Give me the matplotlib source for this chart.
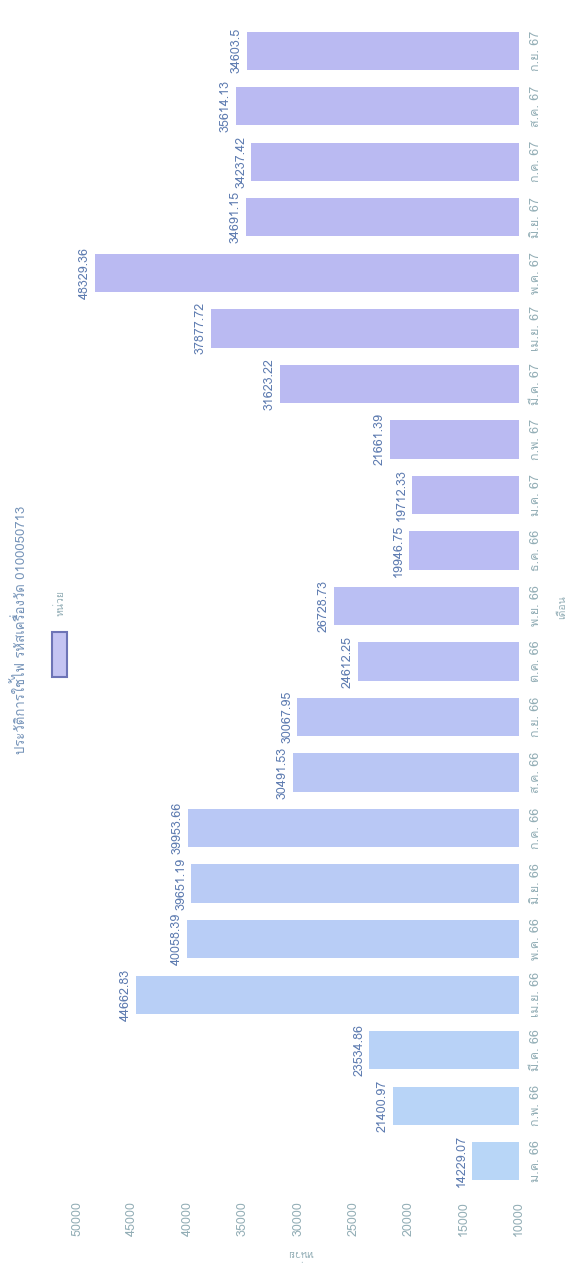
import matplotlib
matplotlib.use("Agg")
import matplotlib.pyplot as plt
from matplotlib import font_manager
from matplotlib.ft2font import FT2Font
from matplotlib.patches import Rectangle
import numpy as np

# data
months = ["ม.ค. 66", "ก.พ. 66", "มี.ค. 66", "เม.ย. 66", "พ.ค. 66", "มิ.ย. 66",
          "ก.ค. 66", "ส.ค. 66", "ก.ย. 66", "ต.ค. 66", "พ.ย. 66", "ธ.ค. 66",
          "ม.ค. 67", "ก.พ. 67", "มี.ค. 67", "เม.ย. 67", "พ.ค. 67", "มิ.ย. 67",
          "ก.ค. 67", "ส.ค. 67", "ก.ย. 67"]
units = [14229.07, 21400.97, 23534.86, 44662.83, 40058.39, 39651.19,
         39953.66, 30491.53, 30067.95, 24612.25, 26728.73, 19946.75,
         19712.33, 21661.39, 31623.22, 37877.72, 48329.36, 34691.15,
         34237.42, 35614.13, 34603.5]
value_ticks = [10000, 15000, 20000, 25000, 30000, 35000, 40000, 45000, 50000]
title = "ประวัติการใช้ไฟ รหัสเครื่องวัด 0100050713"
series_name = "หน่วย"
x_title = "เดือน"
y_title = "หน่วย"


def find_thai_font() :
    for f in font_manager.fontManager.ttflist :
        try :
            if 0x0E01 in FT2Font(f.fname).get_charmap() :
                return f.name
        except Exception :
            pass
    return None


thai = find_thai_font()
fams = ["DejaVu Sans"]
if thai :
    fams = [thai, "DejaVu Sans"]
plt.rcParams["font.family"] = fams

title_col = "#7593b8"
tick_col = "#93aeb6"
label_col = "#5d7bb0"

# chart is drawn turned a quarter turn: values run right to left
fig = plt.figure(figsize = (5.8, 12.7), dpi = 100)
ax = fig.add_axes([77 / 580, 1 - 1189 / 1270, (519 - 77) / 580, (1189 - 23) / 1270])

n = len(units)
c0 = np.array([0.72, 0.84, 0.97])
c1 = np.array([0.73, 0.73, 0.95])
colors = [tuple(c0 + (c1 - c0) * min(1, i / 12)) for i in range(n)]

base = value_ticks[0]
pos = np.arange(n)
ax.barh(pos, np.array(units) - base, left = base, height = 0.69,
    color = colors, linewidth = 0)

for p, v in zip(pos, units) :
    ax.annotate(f"{v}", (v, p), xytext = (-3, 0), textcoords = "offset points",
        rotation = 90, ha = "right", va = "center", fontsize = 9, color = label_col)

ax.set_xlim(value_ticks[-1], value_ticks[0])
ax.set_ylim(-0.5, n - 0.5)
ax.set_xticks(value_ticks)
ax.set_xticklabels([str(t) for t in value_ticks], rotation = 90, fontsize = 9, color = tick_col)
ax.set_yticks(pos)
ax.set_yticklabels(months, rotation = 90, va = "center", fontsize = 9, color = tick_col)
ax.yaxis.tick_right()
ax.tick_params(axis = "x", length = 0, pad = 9)
ax.tick_params(axis = "y", length = 0, pad = 8)
for s in ax.spines.values() :
    s.set_visible(False)

# axis titles
fig.text(300 / 580, 1 - 1253 / 1270, y_title, rotation = 180, ha = "center", va = "center",
    fontsize = 7.5, color = tick_col)
fig.text(562 / 580, 1 - 607 / 1270, x_title, rotation = 90, ha = "center", va = "center",
    fontsize = 7.5, color = tick_col)

# title and legend
fig.text(20 / 580, 1 - 630 / 1270, title, rotation = 90, ha = "center", va = "center",
    fontsize = 9.5, color = title_col)
fig.patches.append(Rectangle((52 / 580, 1 - 677 / 1270), 15 / 580, 45 / 1270,
    transform = fig.transFigure, facecolor = "#c4c4f2", edgecolor = "#6d74b6", linewidth = 1.5))
fig.text(60 / 580, 1 - 603 / 1270, series_name, rotation = 90, ha = "center", va = "center",
    fontsize = 7.5, color = tick_col)

fig.savefig("out.png", dpi = 100)
